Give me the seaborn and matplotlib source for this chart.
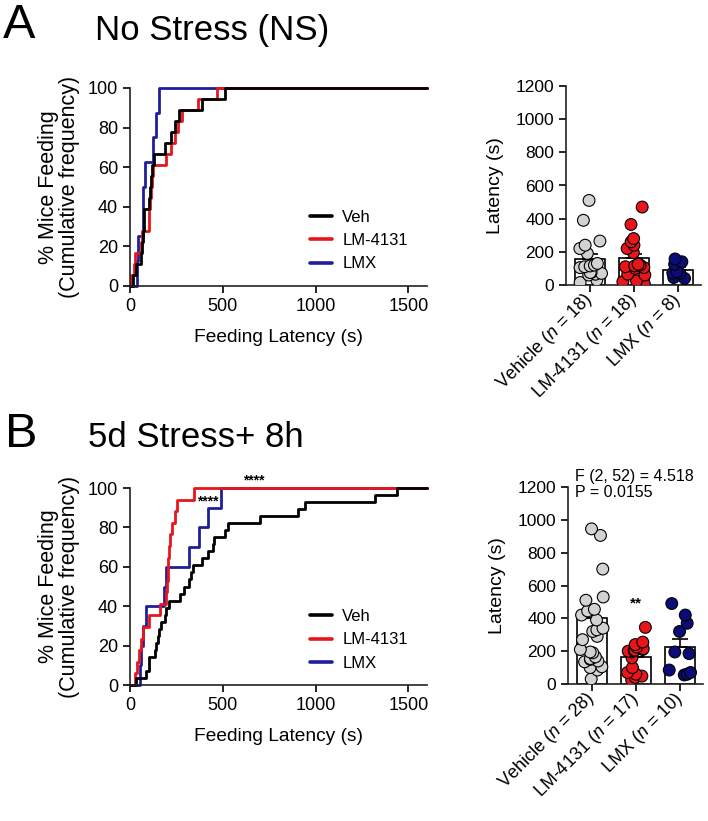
import numpy as np
import pandas as pd
import matplotlib.pyplot as plt
import seaborn as sns

# =========================
# Data (latencies in seconds)
# =========================
groups = ["Veh", "LM-4131", "LMX"]

ns_veh = [15, 30, 60, 65, 70, 75, 75, 105, 110, 115, 120, 130, 190, 220, 240, 265, 390, 510]
ns_lm = [5, 20, 25, 60, 65, 100, 105, 110, 115, 120, 125, 195, 220, 240, 260, 280, 365, 470]
ns_lmx = [40, 45, 70, 72, 80, 125, 140, 157]

st_veh = [30, 85, 100, 105, 135, 140, 150, 155, 165, 190, 195, 210, 270, 290,
          320, 330, 340, 390, 420, 445, 455, 510, 530, 700, 905, 945, 1320, 1440]
st_lm = [25, 40, 48, 60, 70, 100, 160, 195, 200, 203, 206, 210, 215, 225, 240, 255, 345]
st_lmx = [55, 60, 70, 85, 185, 195, 320, 370, 420, 490]

ns_ticklabels = [r"Vehicle ($\it{n}$ = 18)", r"LM-4131 ($\it{n}$ = 18)", r"LMX ($\it{n}$ = 8)"]
st_ticklabels = [r"Vehicle ($\it{n}$ = 28)", r"LM-4131 ($\it{n}$ = 17)", r"LMX ($\it{n}$ = 10)"]

line_colors = {"Veh": "black", "LM-4131": "#e8161b", "LMX": "#1f1f9c"}
dot_colors = {"Veh": "#d2d2d2", "LM-4131": "#e8161b", "LMX": "#0c0c78"}

# =========================
# Style
# =========================
sns.set_style("ticks")
plt.rcParams["font.family"] = ["Liberation Sans", "DejaVu Sans"]
plt.rcParams["mathtext.fontset"] = "custom"
plt.rcParams["mathtext.rm"] = "Liberation Sans"
plt.rcParams["mathtext.it"] = "Liberation Sans:italic"
plt.rcParams["axes.linewidth"] = 1.2
plt.rcParams["axes.edgecolor"] = "#222222"
for key in ["text.color", "axes.labelcolor", "xtick.color", "ytick.color"]:
    plt.rcParams[key] = "black"
plt.rcParams["xtick.major.width"] = 1.2
plt.rcParams["ytick.major.width"] = 1.2
plt.rcParams["xtick.major.size"] = 5
plt.rcParams["ytick.major.size"] = 5

W, H = 708, 821


def box(x0, y0, x1, y1):
    # pixel box (top-left origin) -> figure fraction rect
    return [x0 / W, 1 - y1 / H, (x1 - x0) / W, (y1 - y0) / H]


def cdf_table(samples, x_end=1600):
    parts = []
    for g, vals in samples.items():
        v = np.sort(vals)
        pct = np.arange(1, len(v) + 1) / len(v) * 100
        parts.append(pd.DataFrame({
            "latency": np.concatenate([[0], v, [x_end]]),
            "pct": np.concatenate([[0], pct, [100]]),
            "group": g,
        }))
    return pd.concat(parts, ignore_index=True)


def long_table(samples):
    return pd.concat([pd.DataFrame({"group": g, "latency": v}) for g, v in samples.items()],
                     ignore_index=True)


def cumulative_panel(ax, samples):
    df = cdf_table(samples)
    sns.lineplot(data=df, x="latency", y="pct", hue="group", hue_order=groups[::-1],
                 palette=line_colors, estimator=None, sort=True, drawstyle="steps-post",
                 linewidth=2.0, clip_on=False, ax=ax)
    leg = ax.get_legend()
    handles = leg.legend_handles[::-1]
    labels = [t.get_text() for t in leg.get_texts()][::-1]
    for h in handles:
        h.set_linewidth(2.6)
    ax.legend(handles, labels, loc="upper left", bbox_to_anchor=(0.605, 0.385),
              frameon=False, fontsize=12, handlelength=1.35, handletextpad=0.6,
              labelspacing=0.5, borderpad=0, borderaxespad=0)
    ax.set_xlim(0, 1600)
    ax.set_ylim(0, 100)
    ax.set_xticks([0, 500, 1000, 1500])
    ax.set_yticks([0, 20, 40, 60, 80, 100])
    ax.tick_params(labelsize=13)
    ax.set_xlabel("Feeding Latency (s)", fontsize=13.8, labelpad=10)
    ax.set_ylabel("% Mice Feeding\n(Cumulative frequency)", fontsize=15.5, labelpad=6,
                  linespacing=0.95)
    sns.despine(ax=ax)


def bar_panel(ax, samples, ticklabels):
    df = long_table(samples)
    sns.barplot(data=df, x="group", y="latency", order=groups, errorbar=None,
                color="white", edgecolor="black", linewidth=1.2, width=0.68, ax=ax)
    stats = df.groupby("group")["latency"].agg(["mean", "sem"]).reindex(groups)
    ax.errorbar(np.arange(len(groups)), stats["mean"],
                yerr=[np.zeros(len(groups)), stats["sem"]], fmt="none",
                ecolor="black", elinewidth=1.2, capsize=6, capthick=1.2, zorder=3)
    sns.stripplot(data=df, x="group", y="latency", hue="group", order=groups,
                  hue_order=groups, palette=dot_colors, size=8.5, jitter=0.27,
                  edgecolor="black", linewidth=0.8, legend=False, ax=ax, zorder=4)
    ax.set_xlim(-0.55, 2.52)
    ax.set_ylim(0, 1200)
    ax.set_yticks(range(0, 1201, 200))
    ax.set_xticks(range(len(groups)))
    ax.set_xticklabels(ticklabels, rotation=45, ha="right", va="center",
                       rotation_mode="anchor", fontsize=13)
    ax.tick_params(axis="y", labelsize=12.5)
    ax.set_xlabel("")
    ax.set_ylabel("Latency (s)", fontsize=14, labelpad=8)
    sns.despine(ax=ax)


# =========================
# Figure
# =========================
np.random.seed(7)
fig = plt.figure(figsize=(W / 100, H / 100), dpi=100)

ax_a1 = fig.add_axes(box(130, 88, 427, 286))
ax_a2 = fig.add_axes(box(566, 86, 701, 285))
ax_b1 = fig.add_axes(box(130, 488, 427, 685))
ax_b2 = fig.add_axes(box(568, 487, 703, 684))

cumulative_panel(ax_a1, {"Veh": ns_veh, "LM-4131": ns_lm, "LMX": ns_lmx})
bar_panel(ax_a2, {"Veh": ns_veh, "LM-4131": ns_lm, "LMX": ns_lmx}, ns_ticklabels)

cumulative_panel(ax_b1, {"Veh": st_veh, "LM-4131": st_lm, "LMX": st_lmx})
bar_panel(ax_b2, {"Veh": st_veh, "LM-4131": st_lm, "LMX": st_lmx}, st_ticklabels)

# significance marks
ax_b1.text(665, 104, "****", ha="center", va="center", fontsize=10, fontweight="bold")
ax_b1.text(417, 93, "****", ha="center", va="center", fontsize=10, fontweight="bold")
ax_b2.text(1, 490, "**", ha="center", va="center", fontsize=11, fontweight="bold")
ax_b2.text(0.05, 1.055, "F (2, 52) = 4.518", transform=ax_b2.transAxes,
           ha="left", va="center", fontsize=11.5)
ax_b2.text(0.05, 0.97, "P = 0.0155", transform=ax_b2.transAxes,
           ha="left", va="center", fontsize=11.5)

# panel titles
fig.text(3 / W, 1 - 38 / H, "A", fontsize=35, va="baseline")
fig.text(95 / W, 1 - 40 / H, "No Stress (NS)", fontsize=25, va="baseline")
fig.text(5 / W, 1 - 447 / H, "B", fontsize=35, va="baseline")
fig.text(88 / W, 1 - 447 / H, "5d Stress+ 8h", fontsize=25, va="baseline")

fig.savefig("out.png", dpi=100)
